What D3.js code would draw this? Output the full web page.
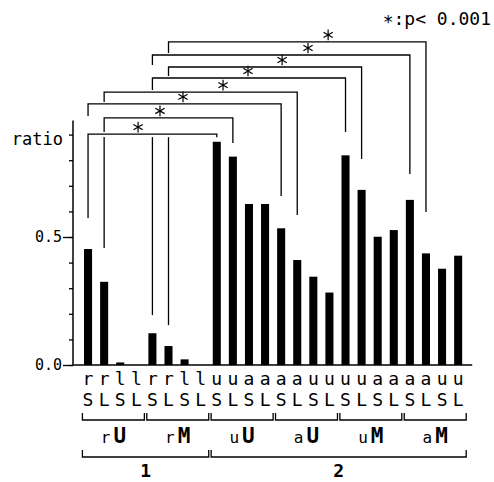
<!DOCTYPE html>
<html><head><meta charset="utf-8">
<script src="https://cdn.jsdelivr.net/npm/d3@7"></script>
<style>body{margin:0;background:#fff}svg{display:block}</style>
</head><body>
<script>
// ---- data ----
const groupPrefix = ["r","r","u","a","u","a"];
const groupSuffix = ["U","M","U","U","M","M"];
const subLetters = ["r","r","l","l","r","r","l","l","u","u","a","a","a","a","u","u","u","u","a","a","a","a","u","u"];
const lengthLetters = ["S","L","S","L","S","L","S","L","S","L","S","L","S","L","S","L","S","L","S","L","S","L","S","L"];
const ratios = [0.453,0.325,0.01,0,0.124,0.074,0.022,0,0.872,0.814,0.629,0.629,0.534,0.41,0.345,0.283,0.819,0.684,0.501,0.527,0.645,0.436,0.376,0.427];
const superLabels = ["1","2"];
const superFirstGroup = [0,2];
const superLastGroup = [1,5];
const yMinorTicks = [0,0.1,0.2,0.3,0.4,0.5,0.6,0.7,0.8,0.9];
const yMajorTicks = [0,0.5];
const axisTitle = "ratio";
const legendText = "\u2217:p< 0.001";
// significance comparisons (bar indices, levels in ratio units)
const compLeft = [5,4,5,4,1,0,1,0];
const compRight = [21,20,17,16,13,12,9,8];
const compLevel = [1.262,1.211,1.164,1.121,1.066,1.020,0.965,0.902];
const compStarAt = [14.92,13.67,12.06,9.94,8.39,5.90,4.47,3.11];
const compRightEnd = [0.598,0.746,0.805,0.91,0.586,0.66,0.867,0.89];
const compLeftEnd = [0.156,0.195,0.156,0.195,0.457,0.574,0.457,0.574];

// ---- drawing ----
const W = 494, H = 482;
const font = "'DejaVu Sans Mono', 'Liberation Mono', monospace";
const svg = d3.select("body").append("svg").attr("width", W).attr("height", H)
  .style("font-family", font);

const ids = d3.range(ratios.length);
const x = d3.scaleBand().domain(ids).range([80, 466.2]).paddingInner(0.5).paddingOuter(0.25);
const y = d3.scaleLinear().domain([0, 1]).range([365, 109]);
const cx = i => x(0) + x.bandwidth() / 2 + i * x.step();
const axisX = 73;

// bars
svg.append("g").selectAll("rect").data(ratios).join("rect")
  .attr("x", (d, i) => x(i)).attr("width", x.bandwidth())
  .attr("y", d => y(d)).attr("height", d => y(0) - y(d))
  .attr("fill", "#000");

// y axis
const gy = svg.append("g").attr("transform", `translate(${axisX},0)`);
gy.call(d3.axisLeft(y).tickValues(yMinorTicks).tickSize(4).tickFormat(""))
  .call(g => g.select(".domain").remove());
const gyMaj = svg.append("g").attr("transform", `translate(${axisX},0)`);
gyMaj.call(d3.axisLeft(y).tickValues(yMajorTicks).tickSize(10).tickPadding(1).tickFormat(d3.format(".1f")))
  .call(g => g.select(".domain").remove());
gyMaj.selectAll("text").attr("font-family", font).attr("font-size", 15).attr("fill", "#000");
svg.selectAll(".tick line").attr("stroke", "#000").attr("stroke-width", 1.3);
svg.append("line").attr("x1", axisX).attr("x2", axisX).attr("y1", y(0)).attr("y2", y(0.955))
  .attr("stroke", "#000").attr("stroke-width", 1.5);
svg.append("text").attr("x", 63).attr("y", 145).attr("text-anchor", "end")
  .attr("font-size", 17).text(axisTitle);

// x axis line
svg.append("line").attr("x1", axisX).attr("x2", x.range()[1] + 6).attr("y1", y(0)).attr("y2", y(0))
  .attr("stroke", "#000").attr("stroke-width", 1.5);

// bar letters
svg.append("g").selectAll("text").data(subLetters).join("text")
  .attr("x", (d, i) => cx(i)).attr("y", 385).attr("text-anchor", "middle")
  .attr("font-size", 18).text(d => d);
svg.append("g").selectAll("text").data(lengthLetters).join("text")
  .attr("x", (d, i) => cx(i)).attr("y", 406).attr("text-anchor", "middle")
  .attr("font-size", 18).text(d => d);

// group brackets
const step = x.step();
const gL = gi => cx(gi * 4) - 0.35 * step;
const gR = gi => cx(gi * 4 + 3) + 0.5 * step;
function bracketDown(g, x1, x2, yy, tick) {
  g.append("path").attr("d", `M${x1},${yy - tick}V${yy}H${x2}V${yy - tick}`)
    .attr("fill", "none").attr("stroke", "#000").attr("stroke-width", 1.3);
}
const gb = svg.append("g");
groupPrefix.forEach((p, gi) => {
  bracketDown(gb, gL(gi), gR(gi), 420, 7);
  const t = gb.append("text").attr("x", (gL(gi) + gR(gi)) / 2).attr("y", 443).attr("text-anchor", "middle");
  t.append("tspan").attr("font-size", 16).text(p);
  t.append("tspan").attr("font-size", 21).attr("font-weight", "bold").attr("dx", 3).text(groupSuffix[gi]);
});
superLabels.forEach((lab, si) => {
  const x1 = gL(superFirstGroup[si]), x2 = gR(superLastGroup[si]);
  bracketDown(gb, x1, x2, 457, 7);
  gb.append("text").attr("x", (x1 + x2) / 2).attr("y", 477).attr("text-anchor", "middle")
    .attr("font-size", 18).attr("font-weight", "bold").text(lab);
});

// significance brackets
const gs = svg.append("g").attr("fill", "none").attr("stroke", "#000").attr("stroke-width", 1.3);
const nC = compLeft.length;
const lastIdx = nC - 1;
for (let i = 0; i < nC; i++) {
  const xl = cx(compLeft[i]), xr = cx(compRight[i]), yl = y(compLevel[i]);
  const leftBottom = i < lastIdx ? y(compLevel[i + 1]) - 2 : y(compLeftEnd[i]);
  gs.append("path").attr("d", `M${xl},${leftBottom}V${yl}H${xr}V${y(compRightEnd[i])}`);
}
// long left column lines below the lowest bracket
const seen = new Set([compLeft[lastIdx]]);
for (let i = nC - 2; i >= 0; i--) {
  if (seen.has(compLeft[i])) continue;
  seen.add(compLeft[i]);
  gs.append("line").attr("x1", cx(compLeft[i])).attr("x2", cx(compLeft[i]))
    .attr("y1", y(compLevel[lastIdx]) + 3).attr("y2", y(compLeftEnd[i]));
}
// stars
const star = d3.symbol(d3.symbolAsterisk, 80);
gs.selectAll("path.star").data(compStarAt).join("path").attr("class", "star")
  .attr("d", star).attr("stroke-width", 1.2)
  .attr("transform", (d, i) => `translate(${cx(d)},${y(compLevel[i]) - 7})`);

// legend
svg.append("text").attr("x", 491).attr("y", 25).attr("text-anchor", "end")
  .attr("font-size", 18).text(legendText);
</script>
</body></html>
